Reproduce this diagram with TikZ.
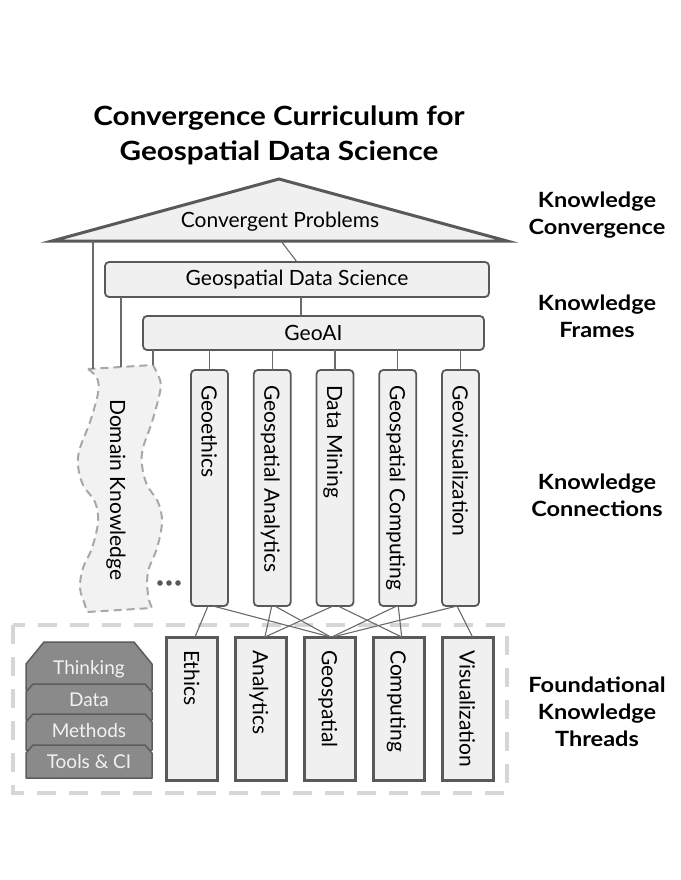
\documentclass[tikz,border=0pt]{standalone}
\usepackage{fontspec}
\setmainfont{Lato}[BoldFeatures={FakeStretch=1.12}]
\usetikzlibrary{calc}
\definecolor{boxfill}{HTML}{F0F0F0}
\definecolor{boxdraw}{HTML}{595959}
\definecolor{linec}{HTML}{6A6A6A}
\definecolor{outerdash}{HTML}{D6D6D6}
\definecolor{dkdash}{HTML}{A8A8A8}
\definecolor{dkfill}{HTML}{F2F2F2}
\definecolor{stackfill}{HTML}{8A8A8A}
\definecolor{stackdraw}{HTML}{5C5C5C}
\definecolor{stacktext}{HTML}{F2F2F2}
\tikzset{
  frame/.style={draw=boxdraw, fill=boxfill, line width=1.8pt, rounded corners=4pt, inner sep=0pt, outer sep=0pt},
  connbox/.style={draw=boxdraw, fill=boxfill, line width=1.8pt, rounded corners=4pt, minimum width=37pt, minimum height=236pt, inner sep=0pt, outer sep=0pt},
  threadbox/.style={draw=boxdraw, fill=boxfill, line width=3pt, minimum width=51pt, minimum height=143pt, inner sep=0pt, outer sep=0pt},
  vlabel/.style={rotate=-90, anchor=west, inner sep=0pt, font=\fontsize{21}{24}\selectfont, text height=16pt, text depth=0pt},
  conn/.style={draw=linec, line width=1.1pt},
  sidelabel/.style={font=\fontsize{21}{27}\selectfont\bfseries, align=center, inner sep=0pt},
  layer/.style={draw=stackdraw, fill=stackfill, line width=1.5pt, line join=round},
  layertext/.style={text=stacktext, font=\fontsize{19}{22}\selectfont, inner sep=0pt},
  boxtext/.style={font=\fontsize{21}{24}\selectfont},
}
\begin{document}
\begin{tikzpicture}[x=1pt, y=-1pt]
\useasboundingbox (0,0) rectangle (680,880);
% title
\node[font=\fontsize{26.5}{35}\selectfont\bfseries, align=center, inner sep=0pt] (title) at (279,135) {Convergence Curriculum for\\Geospatial Data Science};
% side labels
\node[sidelabel] (lconv) at (597,215) {Knowledge\\Convergence};
\node[sidelabel] (lframe) at (597,316) {Knowledge\\Frames};
\node[sidelabel] (lconn) at (597,495) {Knowledge\\Connections};
\node[sidelabel] (lfound) at (597,712) {Foundational\\Knowledge\\Threads};

% outer dashed rectangle
\draw[outerdash, line width=4pt, dash pattern=on 19pt off 13pt] (13,625) rectangle (507,793);

% domain knowledge wavy shape
\draw[dkdash, fill=dkfill, line width=2pt, dash pattern=on 8pt off 5pt]
  plot[smooth, tension=0.6] coordinates {(88,369) (97,378) (98,393) (90,422) (80,448) (78,465) (83,485) (95,502) (98,522) (92,548) (83,568) (80,588) (85,605) (87,612)}
  -- (152,608)
  -- plot[smooth, tension=0.6] coordinates {(152,608) (148,595) (148,572) (157,548) (162,522) (158,502) (147,485) (142,465) (143,448) (152,422) (160,392) (160,380) (153,365)}
  -- cycle;
\node[vlabel] (dk) at (118,399) {Domain Knowledge};
\coordinate (dk1) at (93,368.6);
\coordinate (dk2) at (121,366.8);
\coordinate (dk3) at (153,365);

% triangle
\coordinate (apex) at (279,179);
\coordinate (bl) at (52,241);
\coordinate (br) at (507,241);
\draw[draw=boxdraw, fill=boxfill, line width=3pt, line join=miter] (apex) -- (br) -- (bl) -- cycle;
\node[boxtext, inner sep=0pt] (cp) at (280,222) {Convergent Problems};
\coordinate (tri1) at (93,241);
\coordinate (tri2) at (281,241);

% frames
\node[frame, boxtext, minimum width=384pt, minimum height=35pt] (gds) at (297,279.5) {Geospatial Data Science};
\node[frame, boxtext, minimum width=341pt, minimum height=34pt] (geoai) at (313.5,333) {GeoAI};

% connection boxes
\foreach \i/\x/\t in {1/209.5/Geoethics, 2/272.25/Geospatial Analytics, 3/335/Data Mining, 4/397.75/Geospatial Computing, 5/460.5/Geovisualization}{
  \node[connbox] (c\i) at (\x,488) {};
  \node[vlabel] (c\i l) at (\x,385) {\t};
}

% dots
\foreach \i/\x in {1/160, 2/169, 3/178}{
  \fill[boxdraw] (\x,583) circle (2.8pt) coordinate (dot\i);
}

% thread boxes
\foreach \i/\x/\t in {1/192/Ethics, 2/260.9/Analytics, 3/329.8/Geospatial, 4/398.7/Computing, 5/467.6/Visualization}{
  \node[threadbox] (b\i) at (\x,708.5) {};
  \node[vlabel] (b\i l) at (\x,650) {\t};
}

% stack of layers
\draw[layer] (26,664) -- (44,642) -- (134,642) -- (152,664) -- (152,690) -- (26,690) -- cycle;
\node[layertext] (s1) at (89,669) {Thinking};
\draw[layer] (26,692) -- (33,684) -- (145,684) -- (152,692) -- (152,720) -- (26,720) -- cycle;
\node[layertext] (s2) at (89,700) {Data};
\draw[layer] (26,722) -- (33,714) -- (145,714) -- (152,722) -- (152,750) -- (26,750) -- cycle;
\node[layertext] (s3) at (89,731) {Methods};
\draw[layer] (26,753) -- (33,745) -- (145,745) -- (152,753) -- (152,778) -- (26,778) -- cycle;
\node[layertext] (s4) at (89,762) {Tools \& CI};

% connectors: convergence / frames
\draw[conn] (tri2) -- (gds.north);
\draw[conn] ($(gds.south)+(4,0)$) -- ($(geoai.north)+(-12.5,0)$);
\draw[conn] (tri1) -- (dk1);
\draw[conn] (gds.south west -| dk2) -- (dk2);
\draw[conn] (geoai.south west -| dk3) -- (dk3);
\foreach \i in {1,...,5}{
  \draw[conn] (geoai.south -| c\i.north) -- (c\i.north);
}
% connectors: connections to threads
\draw[conn] ($(c1.south)+(-1.5,0)$) -- ($(b1.north)+(3,0)$);
\draw[conn] ($(c1.south)+(3.5,0)$) -- ($(b3.north)+(1,0)$);
\draw[conn] ($(c2.south)+(-0.5,0)$) -- ($(b2.north)+(4,0)$);
\draw[conn] ($(c2.south)+(2.5,0)$) -- ($(b3.north)+(1,0)$);
\draw[conn] ($(c3.south)+(-2,0)$) -- ($(b2.north)+(4,0)$);
\draw[conn] ($(c3.south)+(3,0)$) -- ($(b4.north)+(3,0)$);
\draw[conn] ($(c4.south)+(-1,0)$) -- ($(b3.north)+(2,0)$);
\draw[conn] ($(c4.south)+(0.5,0)$) -- ($(b4.north)+(3,0)$);
\draw[conn] ($(c5.south)+(-3.5,0)$) -- ($(b3.north)+(3,0)$);
\draw[conn] ($(c5.south)+(-3.5,0)$) -- ($(b5.north)+(5,0)$);
\end{tikzpicture}
\end{document}
